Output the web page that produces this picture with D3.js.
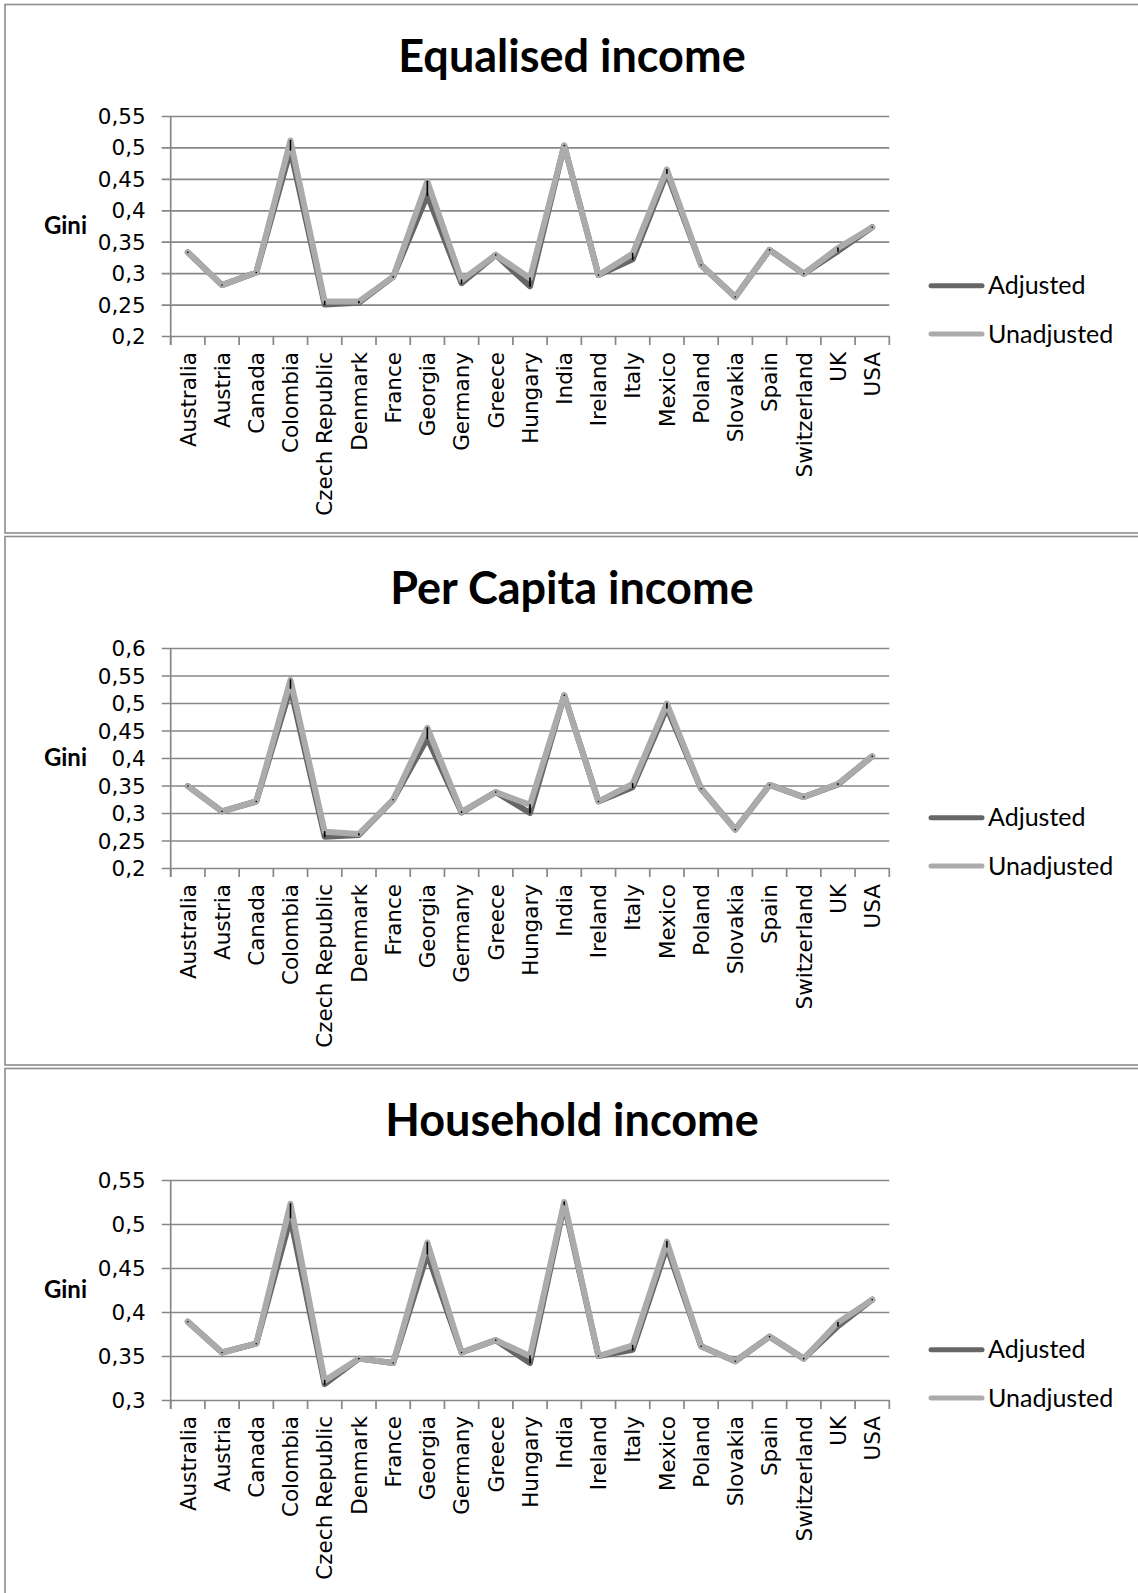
<!DOCTYPE html>
<html>
<head>
<meta charset="utf-8">
<script src="https://cdn.jsdelivr.net/npm/d3@7"></script>
<style>
  html, body { margin: 0; padding: 0; background: #fff; }
  svg { display: block; }
</style>
</head>
<body>
<svg id="chart" width="1138" height="1593"></svg>
<script>
// Countries on the category axis
const countries = ["Australia", "Austria", "Canada", "Colombia", "Czech Republic", "Denmark",
  "France", "Georgia", "Germany", "Greece", "Hungary", "India", "Ireland", "Italy", "Mexico",
  "Poland", "Slovakia", "Spain", "Switzerland", "UK", "USA"];

const seriesNames = ["Adjusted", "Unadjusted"];

// Gini coefficients, equalised income
const equalisedAdjusted   = [0.333, 0.281, 0.301, 0.496, 0.250, 0.253, 0.294, 0.424, 0.284, 0.329, 0.279,
  0.503, 0.297, 0.322, 0.459, 0.313, 0.262, 0.337, 0.299, 0.335, 0.373];
const equalisedUnadjusted = [0.333, 0.281, 0.301, 0.511, 0.255, 0.255, 0.294, 0.446, 0.289, 0.329, 0.292,
  0.503, 0.297, 0.331, 0.465, 0.313, 0.262, 0.337, 0.299, 0.340, 0.373];

// Gini coefficients, per capita income
const perCapitaAdjusted   = [0.349, 0.303, 0.321, 0.527, 0.257, 0.260, 0.324, 0.436, 0.301, 0.338, 0.300,
  0.514, 0.321, 0.347, 0.491, 0.344, 0.270, 0.351, 0.329, 0.352, 0.403];
const perCapitaUnadjusted = [0.349, 0.303, 0.321, 0.542, 0.266, 0.262, 0.324, 0.455, 0.302, 0.338, 0.315,
  0.514, 0.321, 0.353, 0.499, 0.344, 0.270, 0.351, 0.329, 0.353, 0.403];

// Gini coefficients, household income
const householdAdjusted   = [0.389, 0.354, 0.364, 0.507, 0.318, 0.347, 0.342, 0.466, 0.354, 0.368, 0.342,
  0.522, 0.350, 0.357, 0.474, 0.361, 0.344, 0.372, 0.347, 0.384, 0.414];
const householdUnadjusted = [0.389, 0.354, 0.364, 0.523, 0.322, 0.347, 0.342, 0.479, 0.354, 0.368, 0.350,
  0.525, 0.350, 0.362, 0.480, 0.361, 0.344, 0.372, 0.347, 0.388, 0.414];

// Value-axis ticks of each panel
const equalisedTicks = [0.2, 0.25, 0.3, 0.35, 0.4, 0.45, 0.5, 0.55];
const perCapitaTicks = [0.2, 0.25, 0.3, 0.35, 0.4, 0.45, 0.5, 0.55, 0.6];
const householdTicks = [0.3, 0.35, 0.4, 0.45, 0.5, 0.55];

const titles = ["Equalised income", "Per Capita income", "Household income"];
const yTitle = "Gini";

const panels = [
  { title: titles[0], adjusted: equalisedAdjusted, unadjusted: equalisedUnadjusted, ticks: equalisedTicks, top: 4.5 },
  { title: titles[1], adjusted: perCapitaAdjusted, unadjusted: perCapitaUnadjusted, ticks: perCapitaTicks, top: 536.5 },
  { title: titles[2], adjusted: householdAdjusted, unadjusted: householdUnadjusted, ticks: householdTicks, top: 1068.5 }
];

const colors = { Adjusted: "#666666", Unadjusted: "#ababab" };
const gridColor = "#878787";
const labelFont = "'DejaVu Sans', sans-serif";
const headFont = "Lato, 'Open Sans', sans-serif";

const svg = d3.select("#chart");
svg.append("rect").attr("width", 1138).attr("height", 1593).attr("fill", "#fff");

const plotLeft = 170.7, plotRight = 889.3;
const fmt = v => d3.format("")(+v.toFixed(2)).replace(".", ",");

panels.forEach(p => {
  const g = svg.append("g");
  const top = p.top;

  // panel frame
  g.append("rect")
    .attr("x", 5).attr("y", top)
    .attr("width", 1150).attr("height", 528.5)
    .attr("fill", "#fff")
    .attr("stroke", "#8c8c8c").attr("stroke-width", 1.6);

  const plotTop = top + 111.5, plotBottom = top + 331.5;

  const x = d3.scaleBand().domain(countries).range([plotLeft, plotRight]).padding(0);
  const y = d3.scaleLinear().domain(d3.extent(p.ticks)).range([plotBottom, plotTop]);

  // title
  g.append("text")
    .attr("x", 572).attr("y", top + 67)
    .attr("text-anchor", "middle")
    .attr("font-family", headFont).attr("font-weight", 700)
    .attr("font-size", 45).attr("fill", "#000")
    .text(p.title);

  // value axis with horizontal gridlines
  const yAxis = g.append("g")
    .attr("transform", `translate(${plotLeft},0)`)
    .call(d3.axisLeft(y).tickValues(p.ticks)
      .tickSizeInner(-(plotRight - plotLeft)).tickSizeOuter(0)
      .tickPadding(25).tickFormat(fmt));
  yAxis.select(".domain").remove();
  yAxis.selectAll(".tick line")
    .attr("x1", -9)
    .attr("stroke", gridColor).attr("stroke-width", 1.7);
  yAxis.selectAll(".tick text")
    .attr("font-family", labelFont).attr("font-size", 21.5)
    .attr("fill", "#000").attr("dy", "0.35em");

  // vertical axis line
  g.append("line")
    .attr("x1", plotLeft).attr("x2", plotLeft)
    .attr("y1", y.range()[1]).attr("y2", y.range()[0] + 9)
    .attr("stroke", gridColor).attr("stroke-width", 1.7);

  // category axis: labels
  const xAxis = g.append("g")
    .attr("transform", `translate(0,${plotBottom})`)
    .call(d3.axisBottom(x).tickSize(0).tickPadding(0));
  xAxis.select(".domain").remove();
  xAxis.selectAll(".tick text")
    .attr("transform", "rotate(-90)")
    .attr("x", -16).attr("y", 0).attr("dy", "0.36em")
    .attr("text-anchor", "end")
    .attr("font-family", labelFont).attr("font-size", 21.5)
    .attr("fill", "#000");

  // category axis: tick marks between categories
  const bounds = countries.map(c => x(c)).concat([x.range()[1]]);
  g.append("g").selectAll("line").data(bounds).join("line")
    .attr("x1", d => d).attr("x2", d => d)
    .attr("y1", plotBottom).attr("y2", plotBottom + 9)
    .attr("stroke", gridColor).attr("stroke-width", 1.7);

  // axis title
  g.append("text")
    .attr("x", 87).attr("y", (plotTop + plotBottom) / 2)
    .attr("dy", "0.35em")
    .attr("text-anchor", "end")
    .attr("font-family", headFont).attr("font-weight", 700)
    .attr("font-size", 24).attr("fill", "#000")
    .text(yTitle);

  // series lines
  const cx = c => x(c) + x.bandwidth() / 2;
  const line = d3.line().x((d, i) => cx(countries[i])).y(d => y(d));
  const series = { Adjusted: p.adjusted, Unadjusted: p.unadjusted };
  seriesNames.forEach(name => {
    g.append("path")
      .datum(series[name])
      .attr("d", line)
      .attr("fill", "none")
      .attr("stroke", colors[name])
      .attr("stroke-width", 6)
      .attr("stroke-linejoin", "round")
      .attr("stroke-linecap", "round");
  });

  // high-low lines joining the two series in each category
  g.append("g").selectAll("line").data(countries).join("line")
    .attr("x1", c => cx(c)).attr("x2", c => cx(c))
    .attr("y1", (c, i) => y(Math.max(p.adjusted[i], p.unadjusted[i])))
    .attr("y2", (c, i) => y(Math.min(p.adjusted[i], p.unadjusted[i])))
    .attr("stroke", "#000").attr("stroke-width", 1.6)
    .attr("stroke-linecap", "round");

  // legend
  const legend = g.append("g").selectAll("g").data(seriesNames).join("g")
    .attr("transform", (d, i) => `translate(0,${top + 281.2 + i * 48.3})`);
  legend.append("line")
    .attr("x1", 931).attr("x2", 982).attr("y1", 0).attr("y2", 0)
    .attr("stroke", d => colors[d]).attr("stroke-width", 5)
    .attr("stroke-linecap", "round");
  legend.append("text")
    .attr("x", 988).attr("y", 0).attr("dy", "0.35em")
    .attr("font-family", headFont).attr("font-size", 25)
    .attr("fill", "#000")
    .text(d => d);
});
</script>
</body>
</html>
